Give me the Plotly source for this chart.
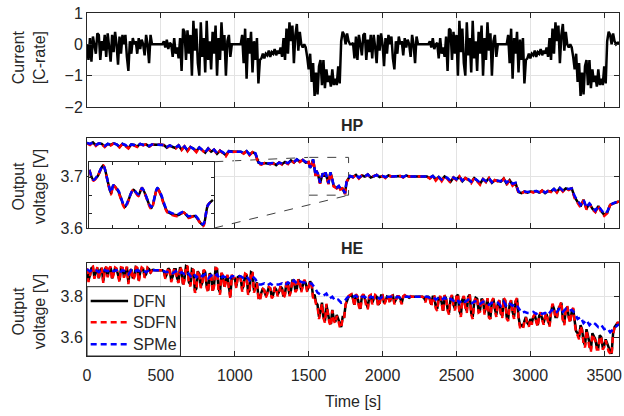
import plotly.graph_objects as go

# ---------------- data ----------------
t_current = list(range(0, 3601, 10))
current_cycle1 = [
    0, -0.5, 0.2, -0.55, 0.25, 0, -0.3, 0.35, 0.3, -0.5,
    0.1, -0.2, 0.3, -0.4, 0.35, -0.1, -0.55, 0.3, -0.25, 0.4,
    0, -0.65, 0.25, -0.3, 0.3, 0, 0.3, -0.4, -0.85, 0.1,
    -0.3, 0.2, 0, 0.1, -0.3, 0.2, -0.15, 0.15, 0, -0.35,
    0.3, 0, -0.6, 0.3, 0, 0, 0, 0, 0, 0,
    0, 0, 0.1, -0.1, 0.15, -0.15, 0.05, 0, -0.4, 0.2,
    -0.3, -0.1, -0.45, 0.2, -0.85, 0.5, 0.4, -0.5, 0.45, -0.3,
    0.3, -1.0, 0.75, -0.2, 0.5, -0.6, -1.0, 0.7, -0.4, 0.2,
    -0.9, 0.75, -0.5, 0.1, -0.8, 0.4, -0.3, 0.6, -1.0, 0.2,
    -0.5, 0.7, -0.2, 0.3, -1.0, 0.1, 0.3, -0.4, 0, 0,
    0, 0, 0, 0, 0, 0.3, -0.6, 0.5, -1.1, 0.2,
    -0.3, 0.4, -0.9, 0.1, -0.5, 0.2, -1.25, -0.5, -0.45, -0.3,
    -0.45, -0.3, -0.35, -0.2, -0.4, -0.25, -0.3, -0.15, -0.35, -0.2,
    -0.3, -0.1, -0.4, 0.2, -0.5, 0.5, -0.3, 0.7, 0.1, 0.6,
    -0.6, 0.3, 0.65, -0.2, 0.4, 0, -0.1, 0, -0.1, -0.4,
    -0.8, -0.3, -1.2, -0.6, -1.65, -0.9, -1.6, -0.7, -0.5, -1.3,
    -0.5, -1.4, -0.8, -1.2, -1.0, -1.35, -0.8, -1.3, -1.1, -1.3,
    -0.7, -1.25, 0.1, 0.4, 0.3, 0, 0.35, 0.1, 0, 0,
]
current_cycle2 = [
    0.05, -0.45, 0.25, -0.5, 0.3, 0, -0.35, 0.3, 0.35, -0.5,
    0.15, -0.25, 0.3, -0.45, 0.3, -0.1, -0.6, 0.3, -0.2, 0.35,
    0, -0.7, 0.2, -0.3, 0.3, 0, 0.25, -0.45, -0.8, 0.1,
    -0.3, 0.25, 0, 0.1, -0.35, 0.2, -0.1, 0.15, 0, -0.4,
    0.3, 0, -0.6, 0.25, 0, 0, 0, 0, 0, 0,
    0, 0, 0.1, -0.1, 0.2, -0.15, 0, 0.05, -0.45, 0.2,
    -0.3, -0.1, -0.4, 0.25, -0.85, 0.5, 0.45, -0.5, 0.4, -0.3,
    0.3, -1.0, 0.75, -0.25, 0.5, -0.6, -1.0, 0.7, -0.35, 0.2,
    -0.9, 0.75, -0.45, 0.1, -0.85, 0.4, -0.3, 0.6, -1.0, 0.2,
    -0.5, 0.7, -0.2, 0.35, -1.0, 0.1, 0.3, -0.4, 0, 0,
    0, 0, 0, 0, 0, 0.3, -0.6, 0.5, -1.1, 0.2,
    -0.3, 0.4, -0.9, 0.15, -0.5, 0.2, -1.25, -0.5, -0.45, -0.3,
    -0.45, -0.3, -0.35, -0.2, -0.4, -0.25, -0.3, -0.15, -0.35, -0.2,
    -0.3, -0.1, -0.4, 0.2, -0.5, 0.5, -0.3, 0.7, 0.1, 0.6,
    -0.6, 0.3, 0.65, -0.2, 0.4, 0, -0.1, 0, -0.1, -0.4,
    -0.8, -0.3, -1.2, -0.6, -1.65, -0.9, -1.6, -0.7, -0.5, -1.3,
    -0.5, -1.4, -0.8, -1.2, -1.0, -1.35, -0.8, -1.3, -1.1, -1.3,
    -0.7, -1.25, 0.1, 0.4, 0.3, 0, 0.35, 0.1, 0, 0.05,
    0.05,
]
current = current_cycle1 + current_cycle2

# HP time grid (denser inside the zoomed window)
t_zoom = [1500, 1509, 1518, 1530, 1541, 1547, 1552, 1563, 1577, 1595, 1606, 1614,
          1634, 1647, 1655, 1669, 1690, 1704, 1714, 1728, 1746, 1756, 1767]
t_hp = list(range(0, 1500, 20)) + t_zoom + list(range(1780, 3601, 20))

hp_dfn = [
    3.765, 3.762, 3.766, 3.760, 3.764, 3.763, 3.758, 3.763, 3.761, 3.764,
    3.762, 3.757, 3.763, 3.760, 3.755, 3.762, 3.761, 3.758, 3.763, 3.761,
    3.762, 3.758, 3.762, 3.762, 3.762, 3.762, 3.761, 3.756, 3.760, 3.757,
    3.755, 3.760, 3.752, 3.758, 3.750, 3.757, 3.754, 3.749, 3.756, 3.751,
    3.746, 3.754, 3.748, 3.752, 3.744, 3.750, 3.746, 3.741, 3.749, 3.748,
    3.748, 3.748, 3.748, 3.745, 3.749, 3.742, 3.747, 3.744, 3.727, 3.724,
    3.726, 3.725, 3.724, 3.726, 3.722, 3.727, 3.724, 3.728, 3.725, 3.731,
    3.727, 3.733, 3.729, 3.732, 3.727,
    3.728, 3.717, 3.721, 3.733, 3.713, 3.702, 3.711, 3.704, 3.687, 3.706, 3.700, 3.708,
    3.686, 3.708, 3.700, 3.682, 3.678, 3.681, 3.676, 3.677, 3.667, 3.689, 3.695,
    3.701, 3.699, 3.703, 3.697, 3.702, 3.700, 3.704, 3.698, 3.701, 3.703, 3.699,
    3.701, 3.698, 3.702, 3.700, 3.700, 3.700, 3.701, 3.699, 3.702, 3.700,
    3.700, 3.700, 3.700, 3.700, 3.701, 3.700, 3.697, 3.701, 3.694, 3.699,
    3.693, 3.700, 3.696, 3.690, 3.698, 3.694, 3.700, 3.691, 3.697, 3.694,
    3.689, 3.697, 3.692, 3.686, 3.695, 3.690, 3.697, 3.688, 3.693, 3.691,
    3.690, 3.696, 3.686, 3.693, 3.684, 3.687, 3.670, 3.668, 3.671, 3.669,
    3.671, 3.670, 3.672, 3.669, 3.673, 3.668, 3.672, 3.671, 3.676, 3.670,
    3.678, 3.672, 3.677, 3.675, 3.677, 3.660, 3.652, 3.642, 3.655, 3.638,
    3.648, 3.638, 3.632, 3.643, 3.633, 3.626, 3.630, 3.645, 3.648, 3.650,
    3.652,
]
hp_sdfn = [
    3.764, 3.761, 3.766, 3.759, 3.764, 3.762, 3.757, 3.763, 3.760, 3.764,
    3.761, 3.756, 3.763, 3.759, 3.754, 3.762, 3.760, 3.757, 3.763, 3.760,
    3.762, 3.757, 3.762, 3.762, 3.762, 3.762, 3.760, 3.755, 3.760, 3.756,
    3.754, 3.760, 3.751, 3.758, 3.749, 3.757, 3.753, 3.747, 3.756, 3.750,
    3.745, 3.754, 3.747, 3.752, 3.742, 3.750, 3.745, 3.739, 3.749, 3.747,
    3.748, 3.748, 3.748, 3.744, 3.749, 3.741, 3.747, 3.743, 3.725, 3.723,
    3.726, 3.724, 3.724, 3.725, 3.721, 3.727, 3.723, 3.728, 3.724, 3.732,
    3.727, 3.734, 3.728, 3.732, 3.726,
    3.728, 3.716, 3.721, 3.733, 3.712, 3.701, 3.711, 3.703, 3.686, 3.706, 3.699, 3.708,
    3.685, 3.708, 3.699, 3.681, 3.677, 3.681, 3.675, 3.677, 3.666, 3.689, 3.695,
    3.701, 3.698, 3.703, 3.696, 3.702, 3.699, 3.704, 3.697, 3.701, 3.703, 3.698,
    3.701, 3.697, 3.702, 3.700, 3.700, 3.700, 3.701, 3.698, 3.702, 3.700,
    3.700, 3.700, 3.700, 3.700, 3.701, 3.700, 3.696, 3.701, 3.692, 3.699,
    3.691, 3.700, 3.695, 3.688, 3.698, 3.693, 3.700, 3.689, 3.697, 3.693,
    3.687, 3.697, 3.691, 3.684, 3.695, 3.689, 3.697, 3.686, 3.693, 3.690,
    3.688, 3.696, 3.684, 3.693, 3.682, 3.687, 3.668, 3.667, 3.671, 3.668,
    3.671, 3.669, 3.672, 3.668, 3.673, 3.667, 3.672, 3.670, 3.676, 3.669,
    3.678, 3.671, 3.677, 3.674, 3.677, 3.658, 3.650, 3.640, 3.655, 3.636,
    3.648, 3.636, 3.631, 3.643, 3.631, 3.624, 3.629, 3.645, 3.647, 3.650,
    3.652,
]
hp_spme = [
    3.765, 3.763, 3.766, 3.761, 3.764, 3.763, 3.759, 3.763, 3.762, 3.764,
    3.762, 3.758, 3.763, 3.761, 3.756, 3.762, 3.761, 3.759, 3.763, 3.761,
    3.762, 3.759, 3.762, 3.762, 3.762, 3.762, 3.761, 3.757, 3.760, 3.758,
    3.756, 3.760, 3.753, 3.758, 3.751, 3.757, 3.754, 3.750, 3.756, 3.752,
    3.747, 3.754, 3.749, 3.752, 3.745, 3.750, 3.747, 3.742, 3.749, 3.748,
    3.748, 3.748, 3.748, 3.746, 3.749, 3.743, 3.747, 3.745, 3.728, 3.725,
    3.726, 3.725, 3.725, 3.726, 3.723, 3.727, 3.725, 3.728, 3.726, 3.731,
    3.728, 3.733, 3.729, 3.732, 3.728,
    3.728, 3.717, 3.722, 3.733, 3.713, 3.703, 3.711, 3.705, 3.688, 3.706, 3.701, 3.708,
    3.687, 3.708, 3.701, 3.683, 3.679, 3.682, 3.677, 3.678, 3.668, 3.689, 3.695,
    3.701, 3.699, 3.703, 3.698, 3.702, 3.700, 3.704, 3.698, 3.701, 3.703, 3.699,
    3.701, 3.699, 3.702, 3.700, 3.700, 3.700, 3.701, 3.699, 3.702, 3.700,
    3.700, 3.700, 3.700, 3.700, 3.701, 3.700, 3.698, 3.701, 3.695, 3.699,
    3.694, 3.700, 3.697, 3.691, 3.698, 3.695, 3.700, 3.692, 3.697, 3.695,
    3.690, 3.697, 3.693, 3.688, 3.695, 3.691, 3.697, 3.689, 3.693, 3.692,
    3.691, 3.696, 3.688, 3.693, 3.686, 3.688, 3.671, 3.669, 3.671, 3.670,
    3.671, 3.671, 3.672, 3.670, 3.673, 3.669, 3.672, 3.671, 3.676, 3.671,
    3.678, 3.673, 3.677, 3.676, 3.677, 3.662, 3.654, 3.645, 3.655, 3.640,
    3.648, 3.641, 3.634, 3.643, 3.635, 3.628, 3.632, 3.645, 3.648, 3.651,
    3.653,
]

t_he = list(range(0, 3601, 10))
he_dfn = [
    3.935, 3.880, 3.905, 3.940, 3.945, 3.895, 3.920, 3.940, 3.890, 3.930, 3.940, 3.875, 3.930, 3.945, 3.900, 3.935, 3.945, 3.890, 3.915, 3.940,
    3.935, 3.905, 3.880, 3.940, 3.940, 3.900, 3.925, 3.945, 3.870, 3.925, 3.935, 3.890, 3.900, 3.945, 3.940, 3.880, 3.920, 3.940, 3.935, 3.900,
    3.910, 3.940, 3.935, 3.920, 3.930, 3.932, 3.930, 3.930, 3.930, 3.930, 3.930, 3.930, 3.925, 3.895, 3.910, 3.940, 3.930, 3.880, 3.900, 3.935,
    3.935, 3.890, 3.875, 3.945, 3.925, 3.860, 3.890, 3.950, 3.945, 3.870, 3.860, 3.935, 3.930, 3.830, 3.840, 3.925, 3.910, 3.850, 3.870, 3.930,
    3.920, 3.850, 3.830, 3.915, 3.905, 3.830, 3.860, 3.940, 3.935, 3.840, 3.820, 3.915, 3.900, 3.850, 3.880, 3.905, 3.850, 3.800, 3.905, 3.890,
    3.890, 3.850, 3.895, 3.900, 3.890, 3.835, 3.860, 3.910, 3.905, 3.820, 3.830, 3.920, 3.915, 3.830, 3.850, 3.870, 3.800, 3.790, 3.820, 3.840,
    3.830, 3.805, 3.820, 3.845, 3.840, 3.800, 3.810, 3.845, 3.835, 3.810, 3.825, 3.850, 3.840, 3.800, 3.815, 3.870, 3.860, 3.810, 3.830, 3.880,
    3.880, 3.830, 3.840, 3.885, 3.870, 3.830, 3.855, 3.880, 3.865, 3.830, 3.850, 3.875, 3.860, 3.800, 3.810, 3.770, 3.760, 3.700, 3.730, 3.770,
    3.700, 3.680, 3.760, 3.720, 3.680, 3.665, 3.735, 3.690, 3.675, 3.710, 3.690, 3.660, 3.650, 3.700, 3.700, 3.760, 3.780, 3.800, 3.805, 3.810,
    3.790, 3.760, 3.810, 3.800, 3.760, 3.740, 3.800, 3.810, 3.790, 3.760, 3.745, 3.800, 3.805, 3.770, 3.785, 3.805, 3.800, 3.760, 3.770, 3.805,
    3.805, 3.770, 3.780, 3.800, 3.795, 3.775, 3.800, 3.805, 3.770, 3.790, 3.800, 3.800, 3.790, 3.770, 3.800, 3.805, 3.800, 3.800, 3.795, 3.800,
    3.800, 3.800, 3.800, 3.800, 3.800, 3.800, 3.800, 3.800, 3.795, 3.780, 3.800, 3.800, 3.790, 3.760, 3.800, 3.800, 3.750, 3.740, 3.790, 3.800,
    3.770, 3.730, 3.805, 3.790, 3.740, 3.720, 3.790, 3.805, 3.760, 3.740, 3.800, 3.810, 3.730, 3.710, 3.785, 3.800, 3.755, 3.730, 3.800, 3.810,
    3.720, 3.700, 3.770, 3.795, 3.790, 3.730, 3.735, 3.790, 3.780, 3.720, 3.750, 3.790, 3.705, 3.700, 3.775, 3.790, 3.740, 3.710, 3.765, 3.780,
    3.720, 3.705, 3.790, 3.780, 3.700, 3.690, 3.760, 3.780, 3.725, 3.700, 3.775, 3.790, 3.700, 3.660, 3.660, 3.650, 3.680, 3.700, 3.670, 3.660,
    3.690, 3.670, 3.700, 3.710, 3.680, 3.660, 3.705, 3.720, 3.690, 3.670, 3.700, 3.715, 3.680, 3.660, 3.720, 3.760, 3.740, 3.700, 3.700, 3.740,
    3.750, 3.770, 3.690, 3.670, 3.735, 3.750, 3.700, 3.680, 3.725, 3.740, 3.680, 3.630, 3.620, 3.600, 3.660, 3.640, 3.580, 3.560, 3.640, 3.600,
    3.560, 3.540, 3.620, 3.600, 3.590, 3.550, 3.550, 3.610, 3.600, 3.550, 3.560, 3.590, 3.570, 3.540, 3.530, 3.520, 3.620, 3.650, 3.660, 3.670,
    3.670,
]
he_sdfn = [
    3.940, 3.872, 3.900, 3.945, 3.948, 3.888, 3.915, 3.945, 3.885, 3.932, 3.945, 3.868, 3.928, 3.948, 3.895, 3.937, 3.948, 3.882, 3.910, 3.943,
    3.938, 3.898, 3.872, 3.944, 3.942, 3.893, 3.922, 3.948, 3.862, 3.928, 3.938, 3.882, 3.895, 3.948, 3.942, 3.872, 3.915, 3.943, 3.937, 3.893,
    3.905, 3.943, 3.937, 3.915, 3.930, 3.933, 3.930, 3.930, 3.930, 3.930, 3.930, 3.930, 3.922, 3.888, 3.905, 3.944, 3.932, 3.872, 3.895, 3.938,
    3.938, 3.882, 3.868, 3.948, 3.928, 3.852, 3.882, 3.953, 3.948, 3.862, 3.850, 3.938, 3.932, 3.820, 3.830, 3.928, 3.912, 3.842, 3.862, 3.933,
    3.922, 3.842, 3.820, 3.918, 3.908, 3.820, 3.852, 3.943, 3.938, 3.830, 3.810, 3.918, 3.902, 3.842, 3.875, 3.908, 3.842, 3.790, 3.908, 3.893,
    3.892, 3.842, 3.897, 3.903, 3.890, 3.825, 3.852, 3.913, 3.908, 3.810, 3.822, 3.923, 3.918, 3.820, 3.842, 3.866, 3.790, 3.780, 3.815, 3.838,
    3.832, 3.796, 3.812, 3.848, 3.842, 3.792, 3.802, 3.848, 3.838, 3.802, 3.818, 3.853, 3.842, 3.792, 3.808, 3.873, 3.866, 3.802, 3.825, 3.885,
    3.885, 3.822, 3.835, 3.888, 3.875, 3.822, 3.850, 3.883, 3.868, 3.822, 3.845, 3.878, 3.862, 3.792, 3.800, 3.762, 3.750, 3.690, 3.722, 3.765,
    3.695, 3.672, 3.765, 3.712, 3.672, 3.655, 3.732, 3.682, 3.668, 3.705, 3.685, 3.652, 3.645, 3.697, 3.695, 3.762, 3.782, 3.803, 3.808, 3.812,
    3.788, 3.752, 3.812, 3.802, 3.752, 3.732, 3.803, 3.812, 3.788, 3.752, 3.738, 3.803, 3.808, 3.762, 3.780, 3.808, 3.802, 3.752, 3.762, 3.808,
    3.808, 3.762, 3.775, 3.803, 3.797, 3.768, 3.802, 3.808, 3.762, 3.786, 3.802, 3.802, 3.786, 3.762, 3.802, 3.808, 3.802, 3.802, 3.793, 3.802,
    3.800, 3.800, 3.800, 3.800, 3.800, 3.800, 3.800, 3.800, 3.793, 3.772, 3.800, 3.802, 3.786, 3.752, 3.802, 3.802, 3.742, 3.730, 3.792, 3.803,
    3.765, 3.722, 3.808, 3.792, 3.732, 3.712, 3.792, 3.808, 3.752, 3.732, 3.803, 3.813, 3.722, 3.700, 3.787, 3.803, 3.748, 3.720, 3.803, 3.813,
    3.712, 3.690, 3.772, 3.798, 3.793, 3.722, 3.727, 3.793, 3.782, 3.712, 3.742, 3.793, 3.697, 3.690, 3.778, 3.793, 3.732, 3.700, 3.768, 3.783,
    3.712, 3.695, 3.793, 3.783, 3.692, 3.680, 3.762, 3.783, 3.718, 3.690, 3.778, 3.793, 3.692, 3.650, 3.650, 3.640, 3.675, 3.697, 3.665, 3.652,
    3.688, 3.662, 3.702, 3.713, 3.675, 3.652, 3.707, 3.723, 3.686, 3.662, 3.702, 3.718, 3.675, 3.652, 3.723, 3.765, 3.745, 3.695, 3.696, 3.745,
    3.755, 3.775, 3.685, 3.660, 3.738, 3.755, 3.695, 3.670, 3.728, 3.745, 3.672, 3.620, 3.610, 3.590, 3.655, 3.632, 3.570, 3.550, 3.635, 3.592,
    3.550, 3.530, 3.615, 3.595, 3.582, 3.540, 3.540, 3.605, 3.595, 3.540, 3.552, 3.585, 3.562, 3.530, 3.520, 3.512, 3.615, 3.650, 3.662, 3.672,
    3.672,
]
t_he_spme = list(range(0, 3601, 20))
he_spme = [
    3.935, 3.925, 3.935, 3.930, 3.920, 3.935, 3.930, 3.925, 3.935, 3.925,
    3.930, 3.915, 3.930, 3.925, 3.910, 3.930, 3.920, 3.930, 3.925, 3.930,
    3.920, 3.930, 3.930, 3.930, 3.930, 3.930, 3.925, 3.920, 3.925, 3.915,
    3.925, 3.910, 3.920, 3.910, 3.920, 3.900, 3.915, 3.895, 3.910, 3.900,
    3.910, 3.890, 3.905, 3.895, 3.910, 3.885, 3.900, 3.895, 3.885, 3.900,
    3.900, 3.900, 3.900, 3.890, 3.900, 3.880, 3.900, 3.885, 3.860, 3.860,
    3.865, 3.855, 3.865, 3.855, 3.860, 3.860, 3.865, 3.855, 3.870, 3.860,
    3.880, 3.865, 3.875, 3.870, 3.870, 3.865, 3.865, 3.845, 3.820, 3.810,
    3.805, 3.815, 3.790, 3.800, 3.780, 3.785, 3.770, 3.775, 3.795, 3.805,
    3.800, 3.805, 3.790, 3.800, 3.800, 3.785, 3.800, 3.795, 3.800, 3.790,
    3.800, 3.795, 3.800, 3.800, 3.790, 3.800, 3.795, 3.800, 3.800, 3.800,
    3.800, 3.800, 3.800, 3.800, 3.800, 3.800, 3.795, 3.800, 3.785, 3.795,
    3.785, 3.795, 3.780, 3.790, 3.780, 3.790, 3.770, 3.785, 3.775, 3.785,
    3.765, 3.775, 3.780, 3.765, 3.775, 3.770, 3.760, 3.770, 3.765, 3.770,
    3.755, 3.775, 3.750, 3.765, 3.755, 3.765, 3.745, 3.720, 3.725, 3.720,
    3.720, 3.725, 3.715, 3.725, 3.715, 3.720, 3.710, 3.730, 3.740, 3.725,
    3.745, 3.725, 3.740, 3.730, 3.735, 3.720, 3.690, 3.700, 3.670, 3.685,
    3.660, 3.675, 3.665, 3.650, 3.660, 3.640, 3.645, 3.625, 3.640, 3.655,
    3.665,
]

x_ticks = [0, 500, 1000, 1500, 2000, 2500, 3000, 3500]
zoom_window = dict(t0=1500, t1=1770, v0=3.664, v1=3.737)
legend_names = ["DFN", "SDFN", "SPMe"]

# ---------------- styling ----------------
FONT = "Liberation Sans, Arial, sans-serif"
TXT = "#262626"
W, H = 624, 416
ML, MR, MT, MB = 87, 2, 13, 60
PW, PH = W - ML - MR, H - MT - MB

def ydom(top_px, bot_px):
    return [(H - MB - bot_px) / PH, (H - MB - top_px) / PH]

def px_x(px):
    return (px - ML) / PW

def px_y(py):
    return (H - MB - py) / PH

dom_top = ydom(13, 107)
dom_hp = ydom(137.7, 228.3)
dom_he = ydom(263.3, 356)
dom_inset_y = ydom(161.7, 228)
dom_inset_x = [px_x(89.3), px_x(215)]

axis_base = dict(showline=True, linecolor=TXT, linewidth=1, mirror="ticks",
                 ticks="inside", ticklen=5, tickcolor=TXT, tickwidth=1,
                 showgrid=True, gridcolor="#e3e3e3", gridwidth=1, zeroline=False,
                 ticklabeloverflow="allow",
                 tickfont=dict(family=FONT, size=16, color=TXT))

XR = [0, 3600]
HP_R = [3.6, 3.775]
HE_R = [3.508, 3.964]
LW = 2.5
RED, BLUE = "#ff0000", "#0000ff"
DASH = "6px,4px"
styles = [("black", None), (RED, DASH), (BLUE, DASH)]

fig = go.Figure()
fig.add_trace(go.Scatter(x=t_current, y=current, mode="lines", line=dict(color="black", width=LW),
                         xaxis="x", yaxis="y", showlegend=False))

panels = [("2", [(t_hp, hp_dfn), (t_hp, hp_sdfn), (t_hp, hp_spme)]),
          ("3", [(t_he, he_dfn), (t_he, he_sdfn), (t_he_spme, he_spme)])]
for ax, series in panels:
    for (tt, vv), name, (col, dash) in zip(series, legend_names, styles):
        fig.add_trace(go.Scatter(x=tt, y=vv, mode="lines", name=name,
                                 line=dict(color=col, width=LW, dash=dash),
                                 xaxis="x" + ax, yaxis="y" + ax, showlegend=False))

# inset: subset of HP data inside the zoom window
idx = [i for i, t in enumerate(t_hp) if zoom_window["t0"] <= t <= zoom_window["t1"]]
ti = [t_hp[i] for i in idx]
for vv, (col, dash) in zip([hp_dfn, hp_sdfn, hp_spme], styles):
    fig.add_trace(go.Scatter(x=ti, y=[vv[i] for i in idx], mode="lines",
                             line=dict(color=col, width=LW, dash=dash, shape="spline", smoothing=0.8),
                             xaxis="x4", yaxis="y4", showlegend=False))

fig.update_layout(
    width=W, height=H, margin=dict(l=ML, r=MR, t=MT, b=MB),
    paper_bgcolor="white", plot_bgcolor="white",
    font=dict(family=FONT, color=TXT), showlegend=False,
    xaxis=dict(axis_base, domain=[0, 1], anchor="y", range=XR, tickvals=x_ticks, showticklabels=False),
    yaxis=dict(axis_base, domain=dom_top, anchor="x", range=[-2, 1], tickvals=[-2, -1, 0, 1]),
    xaxis2=dict(axis_base, domain=[0, 1], anchor="y2", range=XR, tickvals=x_ticks, showticklabels=False),
    yaxis2=dict(axis_base, domain=dom_hp, anchor="x2", range=HP_R, tickvals=[3.6, 3.7]),
    xaxis3=dict(axis_base, domain=[0, 1], anchor="y3", range=XR, tickvals=x_ticks,
                ticktext=[str(v) for v in x_ticks], ticklabelstandoff=5),
    yaxis3=dict(axis_base, domain=dom_he, anchor="x3", range=HE_R, tickvals=[3.6, 3.8]),
    xaxis4=dict(axis_base, domain=dom_inset_x, anchor="y4",
                range=[zoom_window["t0"], zoom_window["t1"]],
                tickvals=[1551, 1606, 1664, 1722], showticklabels=False, showgrid=False, ticklen=3),
    yaxis4=dict(axis_base, domain=dom_inset_y, anchor="x4",
                range=[zoom_window["v0"], zoom_window["v1"]],
                tickvals=[3.68, 3.70, 3.72], showticklabels=False, showgrid=False, ticklen=3),
)

# zoom rectangle and connectors
def paper_x(t):
    return (t - XR[0]) / (XR[1] - XR[0])

def paper_y_hp(v):
    return dom_hp[0] + (v - HP_R[0]) / (HP_R[1] - HP_R[0]) * (dom_hp[1] - dom_hp[0])

zw = zoom_window
fig.add_shape(type="rect", xref="x2", yref="y2", x0=zw["t0"], x1=zw["t1"], y0=zw["v0"], y1=zw["v1"],
              line=dict(color="#404040", width=1, dash="dash"), layer="below")
fig.add_shape(type="line", xref="paper", yref="paper",
              x0=dom_inset_x[1], y0=dom_inset_y[1], x1=paper_x(zw["t0"]), y1=paper_y_hp(zw["v1"]),
              line=dict(color="#404040", width=1, dash="dash"), layer="below")
fig.add_shape(type="line", xref="paper", yref="paper",
              x0=dom_inset_x[1], y0=dom_inset_y[0], x1=paper_x(zw["t1"]), y1=paper_y_hp(zw["v0"]),
              line=dict(color="#404040", width=1, dash="dash"), layer="above")

# legend box (MATLAB style) in the HE panel
fig.add_shape(type="rect", xref="paper", yref="paper", x0=px_x(87), x1=px_x(181),
              y0=px_y(356), y1=px_y(286.7), fillcolor="white", line=dict(color=TXT, width=1),
              layer="above")
legend_rows = [301, 322.3, 344.3]
for name, (col, dash), ry in zip(legend_names, styles, legend_rows):
    fig.add_shape(type="line", xref="paper", yref="paper", x0=px_x(90.7), x1=px_x(128.3),
                  y0=px_y(ry), y1=px_y(ry), line=dict(color=col, width=LW, dash=dash), layer="above")
    fig.add_annotation(xref="paper", yref="paper", x=px_x(131), y=px_y(ry), text=name,
                       showarrow=False, xanchor="left", yanchor="middle",
                       font=dict(family=FONT, size=16, color=TXT))

ann = dict(xref="paper", yref="paper", showarrow=False, xanchor="center", yanchor="middle",
           font=dict(family=FONT, size=16, color=TXT))
fig.add_annotation(ann, x=px_x(29), y=px_y(57), text="Current<br>[C-rate]", textangle=-90)
fig.add_annotation(ann, x=px_x(29), y=px_y(186), text="Output<br>voltage [V]", textangle=-90)
fig.add_annotation(ann, x=px_x(29), y=px_y(311), text="Output<br>voltage [V]", textangle=-90)
fig.add_annotation(ann, x=px_x(354), y=px_y(125), text="<b>HP</b>")
fig.add_annotation(ann, x=px_x(354), y=px_y(248), text="<b>HE</b>")
fig.add_annotation(ann, x=px_x(354), y=px_y(401), text="Time [s]")

fig.write_html("out.html", post_script="document.body.style.margin='0px';",
               config={"displayModeBar": False})
